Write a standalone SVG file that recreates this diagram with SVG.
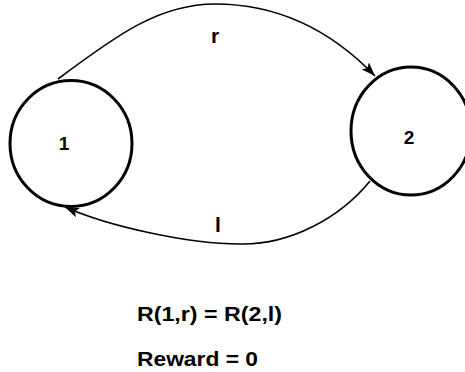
<svg xmlns="http://www.w3.org/2000/svg" width="465" height="372" viewBox="0 0 465 372">
  <style>
    .state { fill: none; stroke: #000; stroke-width: 3; }
    .edge { fill: none; stroke: #000; stroke-width: 1.6; }
    .lbl { font-family: "Liberation Sans", Arial, sans-serif; font-weight: bold; fill: #000; }
  </style>
  <defs>
    <marker id="arrow" viewBox="0 0 14 10" refX="14" refY="5" markerWidth="14" markerHeight="10" markerUnits="userSpaceOnUse" orient="auto">
      <path d="M0,0 L14,5 L0,10 L3,5 Z" fill="#000"/>
    </marker>
  </defs>
  <rect width="465" height="372" fill="#fff"/>
  <g id="connectors">
    <path id="edge-r" class="edge" marker-end="url(#arrow)" d="M58,79 C118,34 160,4 215,4 C270,4 325,24 375,76"/>
    <path id="edge-l" class="edge" marker-end="url(#arrow)" d="M370,181 C340,218 290,245 240,244 C190,244 110,227 65,207"/>
    <text class="lbl" x="215" y="43" font-size="21" text-anchor="middle">r</text>
    <text class="lbl" x="218" y="232" font-size="21" text-anchor="middle">l</text>
  </g>
  <g id="node-1">
    <ellipse class="state" cx="71" cy="143.5" rx="61" ry="63"/>
    <text class="lbl" x="64" y="150" font-size="19" text-anchor="middle">1</text>
  </g>
  <g id="node-2">
    <ellipse class="state" cx="411" cy="131" rx="60" ry="64"/>
    <text class="lbl" x="409" y="144" font-size="19" text-anchor="middle">2</text>
  </g>
  <g id="notes">
    <text class="lbl" x="137" y="321" font-size="20.5" textLength="145" lengthAdjust="spacingAndGlyphs">R(1,r) = R(2,l)</text>
    <text class="lbl" x="137" y="365.5" font-size="20.5" textLength="121" lengthAdjust="spacingAndGlyphs">Reward = 0</text>
  </g>
</svg>
